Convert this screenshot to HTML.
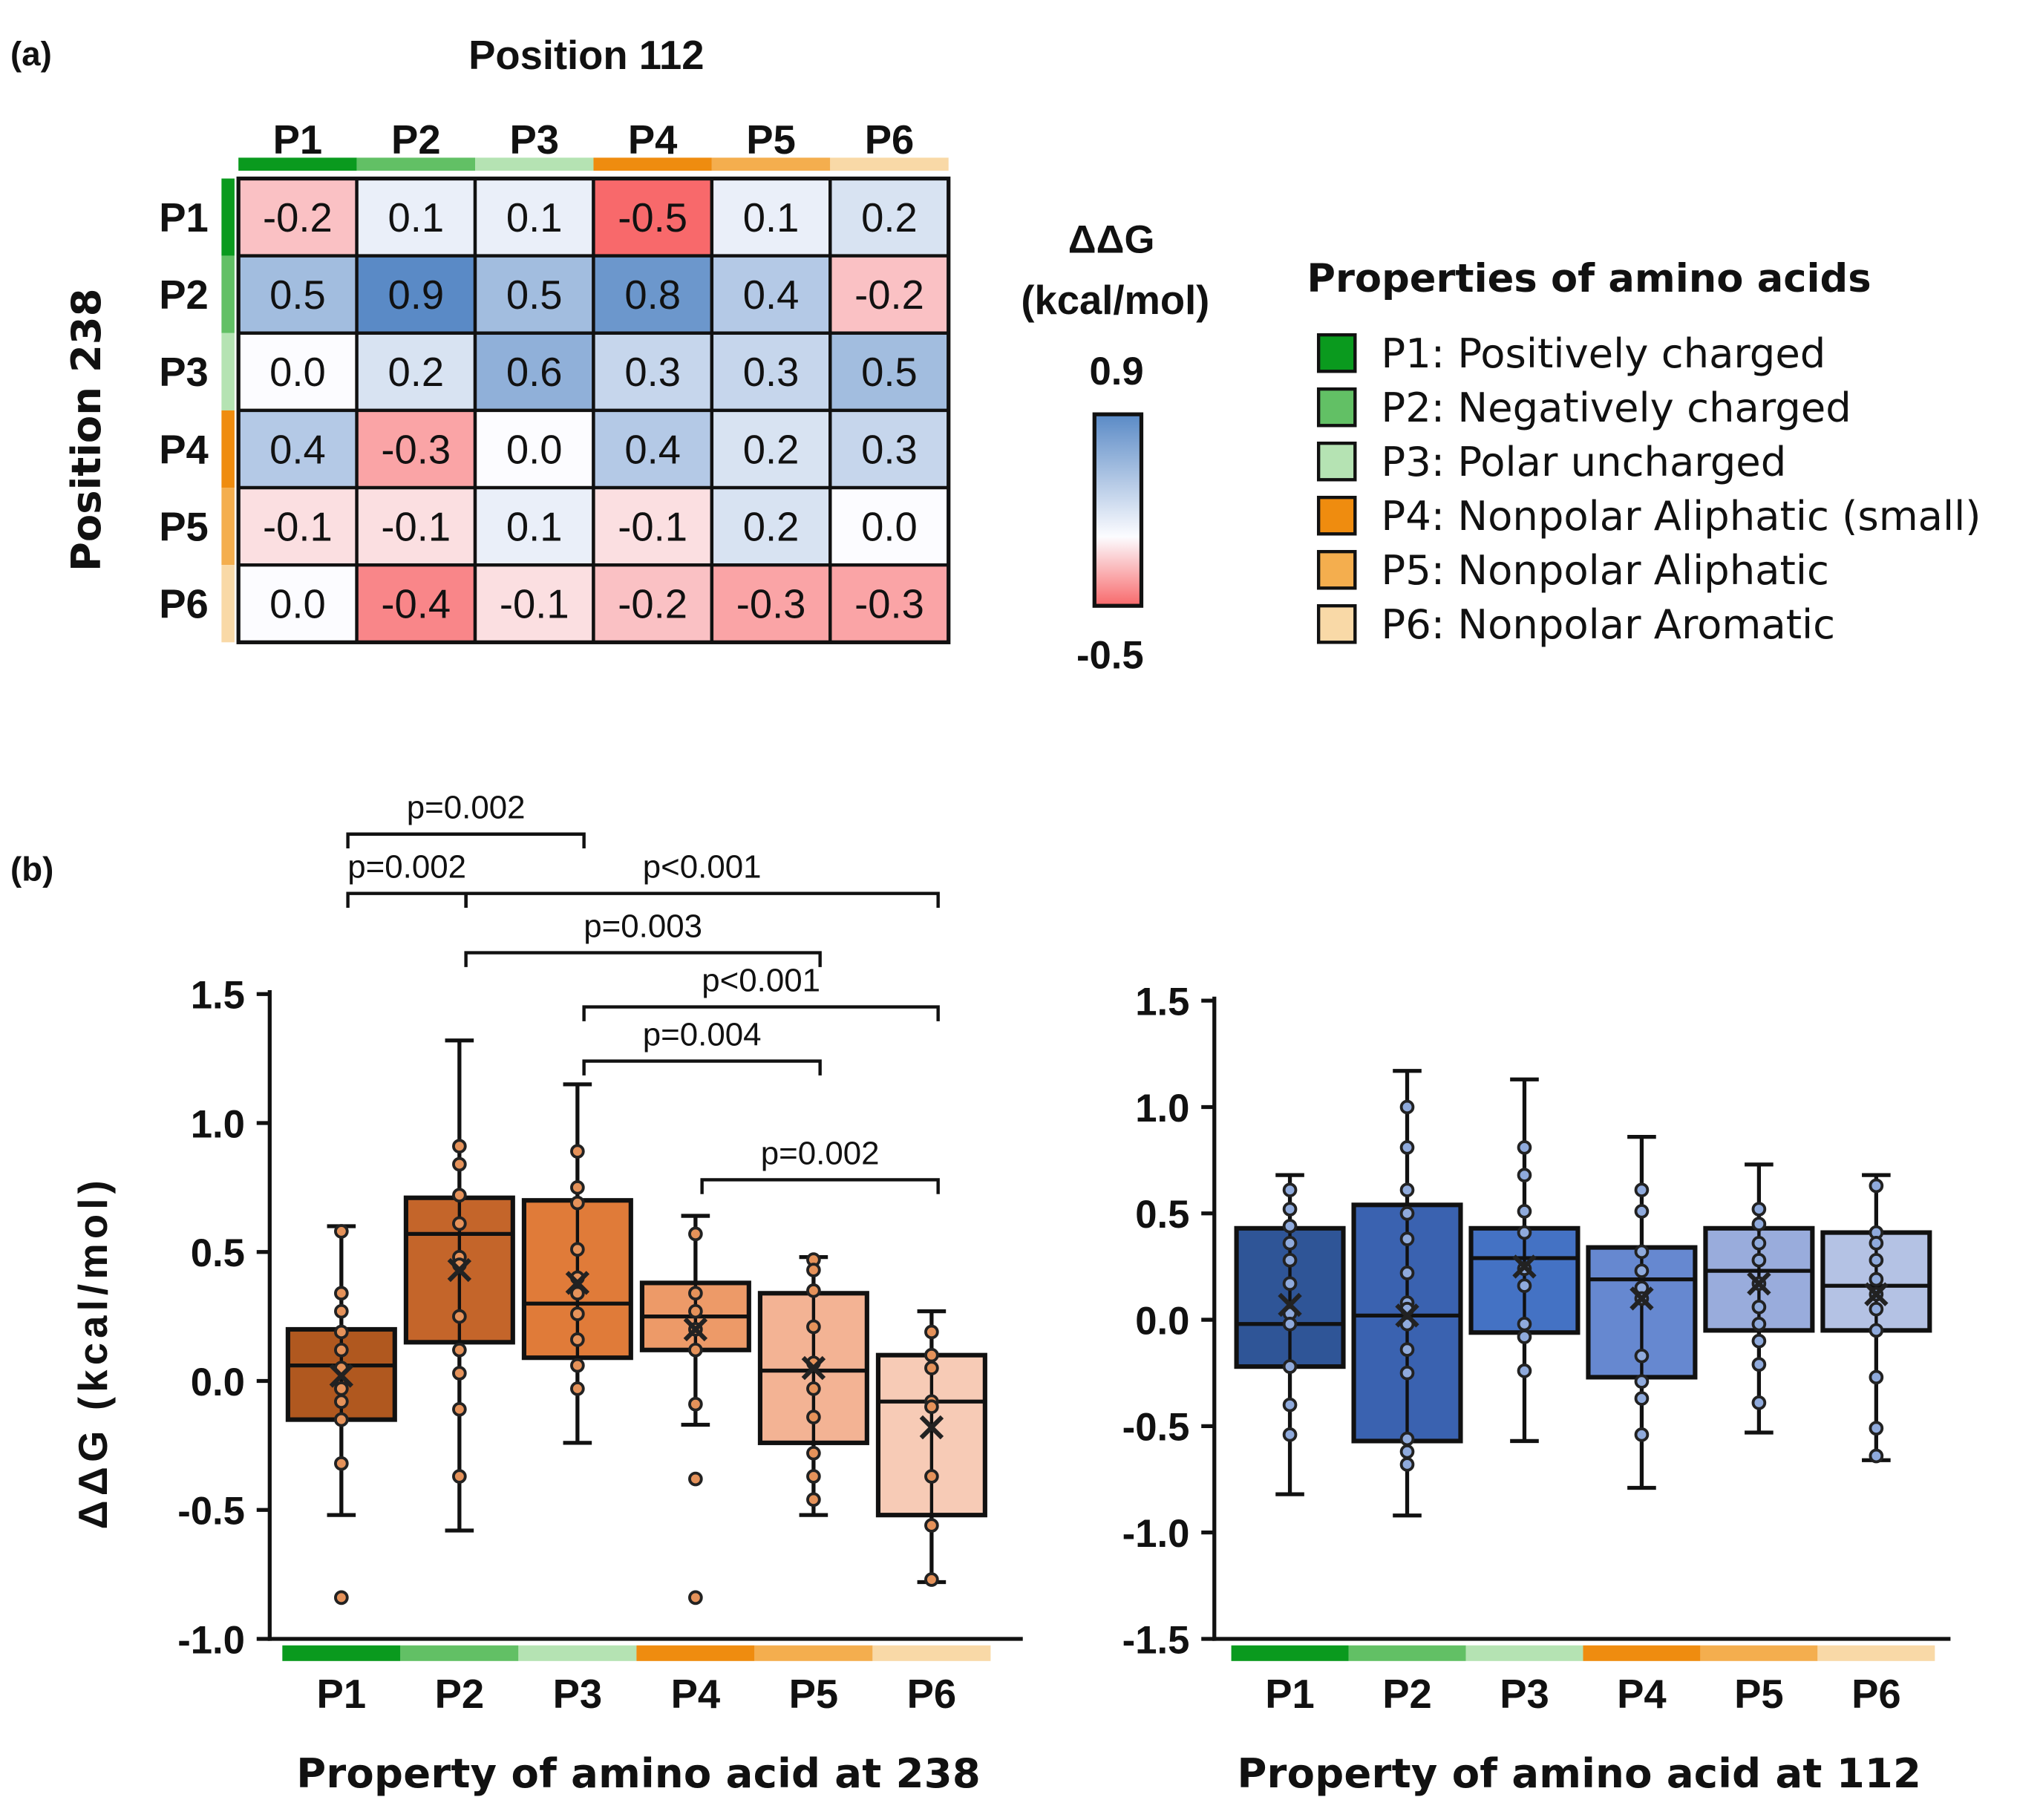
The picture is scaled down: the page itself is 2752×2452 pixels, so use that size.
<!DOCTYPE html>
<html><head><meta charset="utf-8">
<style>
html,body{margin:0;padding:0;background:#fff;}
svg{display:block;}
text{font-family:"Liberation Sans",Arial,sans-serif;fill:#111;}
.b{font-weight:bold;}
.dv{font-family:"DejaVu Sans","Liberation Sans",sans-serif;}
</style></head>
<body>
<svg id="fig" width="2752" height="2452" viewBox="0 0 1568 1397" xmlns="http://www.w3.org/2000/svg">
  <text x="8" y="50" class="b" font-size="26">(a)</text>
  <text x="450" y="53" class="b" font-size="31" text-anchor="middle">Position 112</text>
  <text transform="translate(77,330) rotate(-90)" class="b dv" font-size="31" text-anchor="middle">Position 238</text>
  <g id="heat"></g>
  <g id="cbar">
    <text x="853" y="194" class="b" font-size="30" text-anchor="middle">ΔΔG</text>
    <text x="856" y="241" class="b" font-size="31" text-anchor="middle">(kcal/mol)</text>
    <text x="857" y="295" class="b" font-size="30" text-anchor="middle">0.9</text>
    <text x="852" y="513" class="b" font-size="30" text-anchor="middle">-0.5</text>
    <defs><linearGradient id="cg" x1="0" y1="0" x2="0" y2="1">
      <stop offset="0" stop-color="#5a8ac6"/><stop offset="0.64" stop-color="#fcfcff"/><stop offset="1" stop-color="#f8696b"/>
    </linearGradient></defs>
    <rect x="840" y="318" width="36" height="147" fill="url(#cg)" stroke="#111" stroke-width="3"/>
  </g>
  <g id="legend">
    <text x="1003" y="224" class="b dv" font-size="30">Properties of amino acids</text>
  </g>
  <text x="8" y="676" class="b" font-size="26">(b)</text>
  <g id="left"></g>
  <g id="right"></g>
</svg>
<script>
const NS="http://www.w3.org/2000/svg";
// ---- data ----
const heatRows=["P1","P2","P3","P4","P5","P6"];
const heatCols=["P1","P2","P3","P4","P5","P6"];
const heatValues=[
 [-0.2,0.1,0.1,-0.5,0.1,0.2],
 [0.5,0.9,0.5,0.8,0.4,-0.2],
 [0.0,0.2,0.6,0.3,0.3,0.5],
 [0.4,-0.3,0.0,0.4,0.2,0.3],
 [-0.1,-0.1,0.1,-0.1,0.2,0.0],
 [0.0,-0.4,-0.1,-0.2,-0.3,-0.3]];
const propColors=["#0a9a1e","#62c065","#b5e3b3","#ef8c0f","#f4ae4e","#f9d9a7"];
const legendLabels=["P1: Positively charged","P2: Negatively charged","P3: Polar uncharged","P4: Nonpolar Aliphatic (small)","P5: Nonpolar Aliphatic","P6: Nonpolar Aromatic"];
const categories=["P1","P2","P3","P4","P5","P6"];
const yTicksLeft=[1.5,1.0,0.5,0.0,-0.5,-1.0];
const yTicksRight=[1.5,1.0,0.5,0.0,-0.5,-1.0,-1.5];
// left (238) box stats
const leftQ1=[-0.15,0.15,0.09,0.12,-0.24,-0.52];
const leftMed=[0.06,0.57,0.30,0.25,0.04,-0.08];
const leftQ3=[0.20,0.71,0.70,0.38,0.34,0.10];
const leftLo=[-0.52,-0.58,-0.24,-0.17,-0.52,-0.78];
const leftHi=[0.60,1.32,1.15,0.64,0.48,0.27];
const leftMean=[0.02,0.43,0.38,0.20,0.05,-0.18];
const leftPoints=[
 [0.58,0.34,0.27,0.19,0.12,0.05,-0.03,-0.08,-0.15,-0.32,-0.84],
 [0.91,0.84,0.72,0.61,0.48,0.45,0.25,0.12,0.03,-0.11,-0.37],
 [0.89,0.75,0.69,0.51,0.40,0.34,0.26,0.16,0.06,-0.03],
 [0.57,0.34,0.27,0.20,0.12,-0.09,-0.38,-0.84],
 [0.47,0.43,0.35,0.21,0.07,-0.03,-0.14,-0.28,-0.37,-0.46],
 [0.19,0.10,0.05,-0.08,-0.10,-0.37,-0.56,-0.77]];
const leftFill=["#b0581f","#c4652a","#e07b39","#ed9a68","#f3b394","#f7cbb6"];
// right (112) box stats
const rightQ1=[-0.22,-0.57,-0.06,-0.27,-0.05,-0.05];
const rightMed=[-0.02,0.02,0.29,0.19,0.23,0.16];
const rightQ3=[0.43,0.54,0.43,0.34,0.43,0.41];
const rightLo=[-0.82,-0.92,-0.57,-0.79,-0.53,-0.66];
const rightHi=[0.68,1.17,1.13,0.86,0.73,0.68];
const rightMean=[0.07,0.02,0.25,0.10,0.17,0.12];
const rightPoints=[
 [0.61,0.52,0.44,0.36,0.28,0.17,0.03,-0.02,-0.22,-0.40,-0.54],
 [1.00,0.81,0.61,0.50,0.38,0.22,0.08,0.05,-0.02,-0.14,-0.25,-0.56,-0.62,-0.68],
 [0.81,0.68,0.51,0.41,0.24,0.16,-0.02,-0.08,-0.24],
 [0.61,0.51,0.32,0.23,0.15,0.10,-0.17,-0.29,-0.37,-0.54],
 [0.52,0.45,0.36,0.28,0.17,0.06,-0.02,-0.10,-0.21,-0.39],
 [0.63,0.41,0.36,0.28,0.19,0.12,0.05,-0.05,-0.27,-0.51,-0.64]];
const rightFill=["#2f5597","#3a62b0","#4472c4","#6688d0","#99acdc","#b4c2e4"];
// significance brackets
const sigFrom=[0,0,1,1,2,2,3];
const sigTo=[2,1,5,4,5,4,5];
const sigLabels=["p=0.002","p=0.002","p<0.001","p=0.003","p<0.001","p=0.004","p=0.002"];
const sigY=[2.12,1.89,1.89,1.66,1.45,1.24,0.78];

function mk(tag,attrs,parent){const e=document.createElementNS(NS,tag);for(const k in attrs)e.setAttribute(k,attrs[k]);parent.appendChild(e);return e;}
function lerp(a,b,t){return Math.round(a+(b-a)*t);}
function heatColor(v){
  const red=[248,105,107],wh=[252,252,255],bl=[90,138,198];
  let c;
  if(v<0){const t=v/-0.5;c=[0,1,2].map(i=>lerp(wh[i],red[i],t));}
  else{const t=v/0.9;c=[0,1,2].map(i=>lerp(wh[i],bl[i],t));}
  return `rgb(${c[0]},${c[1]},${c[2]})`;
}
// ---- heatmap ----
(function(){
  const g=document.getElementById('heat');
  const x0=183,y0=137,cw=(728-183)/6,ch=(493-137)/6;
  heatCols.forEach((c,j)=>{
    const t=mk('text',{x:x0+cw*(j+0.5),y:118,'text-anchor':'middle','font-size':31,'font-weight':'bold'},g);t.textContent=c;
    
    
    const s=mk('rect',{x:x0+cw*j,y:121,width:cw,height:10,fill:propColors[j]},g);
    
    
  });
  heatRows.forEach((r,i)=>{
    const t=mk('text',{x:160,y:y0+ch*(i+0.5)+11,'text-anchor':'end','font-size':31,'font-weight':'bold'},g);t.textContent=r;
    
    
    const s=mk('rect',{x:170,y:y0+ch*i,width:10,height:ch,fill:propColors[i]},g);
    
    
    heatValues[i].forEach((v,j)=>{
      const c=mk('rect',{x:x0+cw*j,y:y0+ch*i,width:cw,height:ch,fill:heatColor(v),stroke:'#111','stroke-width':2.5},g);
      
      
      const t2=mk('text',{x:x0+cw*(j+0.5),y:y0+ch*(i+0.5)+11,'text-anchor':'middle','font-size':31},g);
      t2.textContent=v.toFixed(1);
      
      
    });
  });
  mk('rect',{x:x0,y:y0,width:728-183,height:493-137,fill:'none',stroke:'#111','stroke-width':3},g);
})();
// ---- legend ----
(function(){
  const g=document.getElementById('legend');
  legendLabels.forEach((l,i)=>{
    const cy=271+i*41.6;
    const r=mk('rect',{x:1012,y:cy-14,width:28,height:28,fill:propColors[i],stroke:'#111','stroke-width':2.5},g);
    
    
    const t=mk('text',{x:1060,y:cy+11,'font-size':31,class:'dv'},g);t.textContent=l;
    
    
  });
})();
// ---- boxplots ----
function boxplot(gid,ax,ticks,q1,med,q3,lo,hi,mean,pts,fills,ptFill){
  const g=document.getElementById(gid);
  const y=v=>ax.y0-(v-ax.vmin)*ax.k;
  const xc=i=>ax.c0+i*ax.dx;
  mk('line',{x1:ax.xL,y1:ax.yTop-3,x2:ax.xL,y2:ax.y0+1.5,stroke:'#111','stroke-width':3},g);
  mk('line',{x1:ax.xL-1.5,y1:ax.y0,x2:ax.xR,y2:ax.y0,stroke:'#111','stroke-width':3},g);
  ticks.forEach(v=>{
    mk('line',{x1:ax.xL-10,y1:y(v),x2:ax.xL,y2:y(v),stroke:'#111','stroke-width':3},g);
    const t=mk('text',{x:ax.xL-19,y:y(v)+11,'text-anchor':'end','font-size':30,'font-weight':'bold'},g);
    t.textContent=v.toFixed(1);
    
    
  });
  categories.forEach((c,i)=>{
    const s=mk('rect',{x:xc(i)-ax.dx/2,y:ax.y0+5,width:ax.dx,height:12,fill:propColors[i]},g);
    
    
    const t=mk('text',{x:xc(i),y:ax.y0+53,'text-anchor':'middle','font-size':31,'font-weight':'bold'},g);t.textContent=c;
    
    
    const w=ax.bw;
    mk('line',{x1:xc(i),y1:y(lo[i]),x2:xc(i),y2:y(hi[i]),stroke:'#111','stroke-width':3},g);
    mk('line',{x1:xc(i)-11,y1:y(lo[i]),x2:xc(i)+11,y2:y(lo[i]),stroke:'#111','stroke-width':3},g);
    mk('line',{x1:xc(i)-11,y1:y(hi[i]),x2:xc(i)+11,y2:y(hi[i]),stroke:'#111','stroke-width':3},g);
    const b=mk('rect',{x:xc(i)-w/2,y:y(q3[i]),width:w,height:y(q1[i])-y(q3[i]),fill:fills[i],stroke:'#111','stroke-width':3.5},g);
    
    
    mk('line',{x1:xc(i)-w/2,y1:y(med[i]),x2:xc(i)+w/2,y2:y(med[i]),stroke:'#111','stroke-width':3},g);
    mk('line',{x1:xc(i),y1:y(q1[i]),x2:xc(i),y2:y(q3[i]),stroke:'#111','stroke-width':2.5},g);
    pts[i].forEach(v=>{
      const p=mk('circle',{cx:xc(i),cy:y(v),r:4.5,fill:ptFill,stroke:'#222','stroke-width':2.2},g);
      
      
    });
    const m=y(mean[i]);
    const mx=mk('path',{d:`M${xc(i)-8},${m-8}L${xc(i)+8},${m+8}M${xc(i)+8},${m-8}L${xc(i)-8},${m+8}`,stroke:'#222','stroke-width':3.5,fill:'none'},g);
    
    
  });
  return {y,xc};
}
const L=boxplot('left',{xL:207,xR:785,y0:1258,yTop:763,vmin:-1.0,k:198,c0:262,dx:90.6,bw:82},yTicksLeft,leftQ1,leftMed,leftQ3,leftLo,leftHi,leftMean,leftPoints,leftFill,'#e5925a');
boxplot('right',{xL:932,xR:1497,y0:1258,yTop:768,vmin:-1.5,k:163.3,c0:990,dx:90,bw:82},yTicksRight,rightQ1,rightMed,rightQ3,rightLo,rightHi,rightMean,rightPoints,rightFill,'#8faadc');
// titles
(function(){
  const g=document.getElementById('left');
  let t=mk('text',{x:490,y:1372,'text-anchor':'middle','font-size':31,'font-weight':'bold',class:'dv'},g);t.textContent='Property of amino acid at 238';
  t.setAttribute('textLength',525);
  
  
  t=mk('text',{transform:'translate(82,1040) rotate(-90)','text-anchor':'middle','font-size':31,'font-weight':'bold'},g);t.textContent='ΔΔG (kcal/mol)';
  t.setAttribute('textLength',268);
  
  
  const g2=document.getElementById('right');
  t=mk('text',{x:1212,y:1372,'text-anchor':'middle','font-size':31,'font-weight':'bold',class:'dv'},g2);t.textContent='Property of amino acid at 112';
  t.setAttribute('textLength',525);
  
  
  // significance
  sigLabels.forEach((lab,i)=>{
    const x1=L.xc(sigFrom[i])+5,x2=L.xc(sigTo[i])+5,yy=L.y(sigY[i]);
    const br=mk('path',{d:`M${x1},${yy+11}V${yy}H${x2}V${yy+11}`,stroke:'#111','stroke-width':2.5,fill:'none'},g);
    
    
    const tx=mk('text',{x:(x1+x2)/2,y:yy-12,'text-anchor':'middle','font-size':25},g);
    tx.textContent=lab;
    
    
  });
})();
</script>
</body></html>
